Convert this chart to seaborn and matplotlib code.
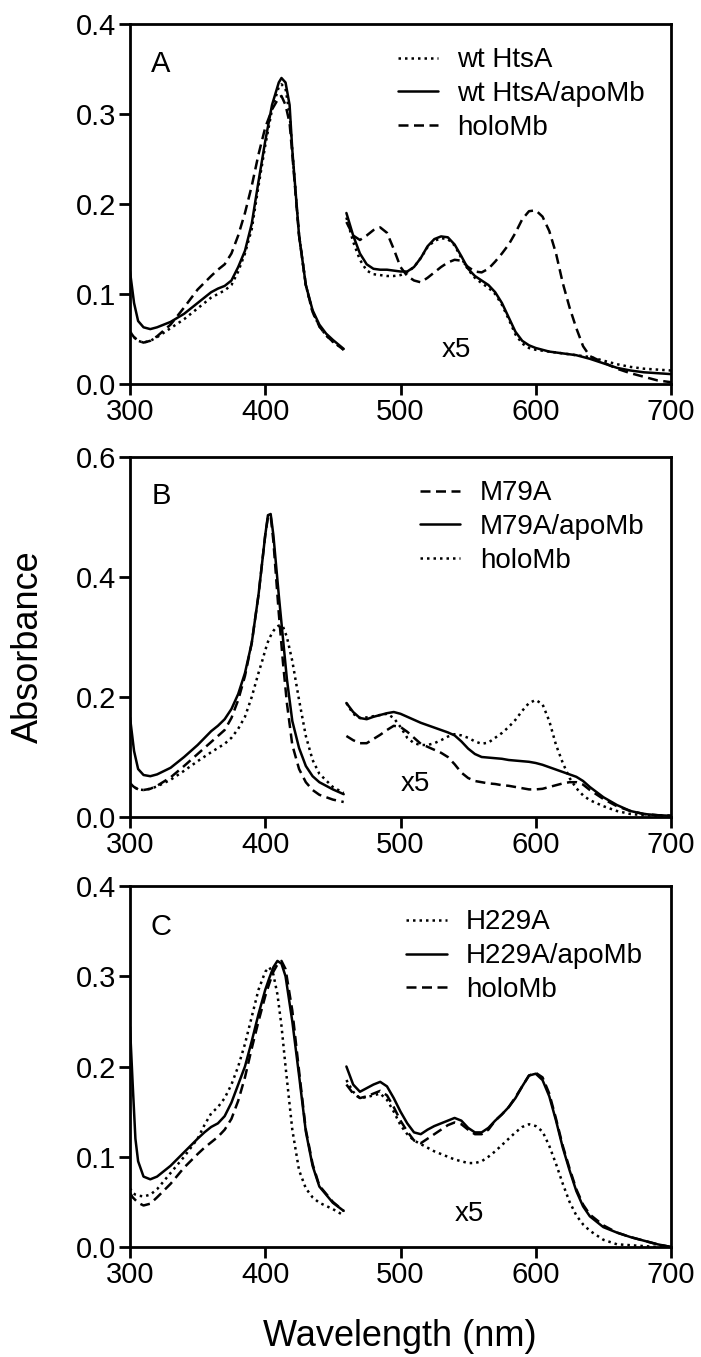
import numpy as np
import pandas as pd
import seaborn as sns
import matplotlib.pyplot as plt

# --- data ---
# Soret region (true absorbance) and visible region (x5)
a_wl_soret = [300, 303, 306, 310, 315, 320, 330, 340, 350, 360, 365, 370, 375, 380, 385, 390,
              395, 400, 405, 410, 412, 415, 418, 420, 425, 430, 435, 440, 445, 450, 458]
a_wt = [0.058, 0.052, 0.048, 0.046, 0.048, 0.052, 0.062, 0.072, 0.084, 0.096, 0.1, 0.104, 0.11,
        0.125, 0.145, 0.172, 0.22, 0.265, 0.305, 0.33, 0.333, 0.328, 0.3, 0.26, 0.165, 0.11,
        0.08, 0.064, 0.054, 0.047, 0.038]
a_wt_apo = [0.125, 0.09, 0.07, 0.063, 0.061, 0.063, 0.069, 0.078, 0.09, 0.102, 0.106, 0.109,
            0.115, 0.13, 0.148, 0.178, 0.225, 0.27, 0.31, 0.335, 0.34, 0.335, 0.31, 0.26, 0.165,
            0.11, 0.082, 0.066, 0.056, 0.049, 0.039]
a_holo = [0.058, 0.052, 0.048, 0.046, 0.048, 0.053, 0.066, 0.085, 0.105, 0.12, 0.127, 0.133,
          0.145, 0.165, 0.19, 0.22, 0.255, 0.285, 0.305, 0.318, 0.32, 0.31, 0.29, 0.255, 0.165,
          0.11, 0.08, 0.064, 0.054, 0.047, 0.038]

wl_vis = [460, 465, 470, 475, 480, 485, 490, 495, 500, 505, 510, 515, 520, 525, 530, 535, 540,
          545, 550, 555, 560, 565, 570, 575, 580, 585, 590, 595, 600, 605, 610, 615, 620, 625,
          630, 635, 640, 650, 660, 670, 680, 690, 700]
a_wt_vis = [0.185, 0.158, 0.138, 0.126, 0.122, 0.121, 0.12, 0.12, 0.121, 0.124, 0.13, 0.14, 0.152,
            0.159, 0.162, 0.161, 0.154, 0.14, 0.127, 0.118, 0.112, 0.107, 0.1, 0.088, 0.072,
            0.055, 0.045, 0.04, 0.038, 0.037, 0.036, 0.035, 0.034, 0.033, 0.032, 0.031, 0.03,
            0.026, 0.022, 0.019, 0.017, 0.016, 0.015]
a_wt_apo_vis = [0.19, 0.165, 0.145, 0.133, 0.128, 0.127, 0.127, 0.126, 0.125, 0.125, 0.13, 0.14,
                0.153, 0.161, 0.164, 0.163, 0.155, 0.142, 0.128, 0.12, 0.115, 0.11, 0.102, 0.09,
                0.074, 0.058, 0.048, 0.043, 0.04, 0.038, 0.036, 0.035, 0.034, 0.033, 0.032, 0.03,
                0.028, 0.023, 0.018, 0.015, 0.013, 0.012, 0.011]
a_holo_vis = [0.18, 0.165, 0.16, 0.165, 0.171, 0.174, 0.168, 0.15, 0.13, 0.12, 0.115, 0.113, 0.118,
              0.124, 0.13, 0.135, 0.138, 0.137, 0.13, 0.125, 0.124, 0.128, 0.136, 0.145, 0.155,
              0.168, 0.183, 0.192, 0.193, 0.186, 0.17, 0.145, 0.112, 0.085, 0.062, 0.042, 0.031,
              0.024, 0.017, 0.012, 0.008, 0.004, 0.002]

b_wl_soret = [300, 303, 306, 310, 315, 320, 330, 340, 350, 360, 365, 370, 375, 380, 385, 390, 395,
              398, 400, 402, 404, 406, 408, 410, 413, 416, 420, 425, 430, 435, 440, 450, 458]
b_m79a = [0.056, 0.05, 0.046, 0.045, 0.047, 0.052, 0.066, 0.085, 0.105, 0.125, 0.135, 0.145,
          0.165, 0.195, 0.235, 0.29, 0.37, 0.43, 0.47, 0.5, 0.502, 0.46, 0.4, 0.34, 0.26, 0.19,
          0.12, 0.08, 0.058, 0.045, 0.037, 0.029, 0.025]
b_m79a_apo = [0.166, 0.11, 0.08, 0.07, 0.068, 0.071, 0.082, 0.1, 0.12, 0.143, 0.152, 0.163, 0.18,
              0.205, 0.24, 0.29, 0.37, 0.43, 0.47, 0.503, 0.505, 0.47, 0.42, 0.37, 0.3, 0.23,
              0.16, 0.115, 0.085, 0.068, 0.058, 0.046, 0.038]
b_holo = [0.056, 0.05, 0.046, 0.045, 0.047, 0.051, 0.062, 0.077, 0.093, 0.108, 0.115, 0.122,
          0.132, 0.147, 0.167, 0.2, 0.24, 0.262, 0.278, 0.292, 0.302, 0.31, 0.316, 0.319, 0.318,
          0.3, 0.26, 0.195, 0.135, 0.095, 0.072, 0.05, 0.04]
b_m79a_vis = [0.135, 0.128, 0.123, 0.123, 0.13, 0.137, 0.145, 0.152, 0.15, 0.142, 0.132, 0.122,
              0.117, 0.112, 0.107, 0.1, 0.088, 0.074, 0.065, 0.06, 0.058, 0.056, 0.055, 0.053,
              0.052, 0.05, 0.048, 0.046, 0.046, 0.047, 0.05, 0.053, 0.056, 0.058, 0.058, 0.054,
              0.045, 0.03, 0.018, 0.01, 0.005, 0.003, 0.002]
b_m79a_apo_vis = [0.19, 0.175, 0.165, 0.163, 0.167, 0.17, 0.173, 0.175, 0.172, 0.167, 0.162,
                  0.157, 0.153, 0.149, 0.145, 0.141, 0.136, 0.126, 0.114, 0.105, 0.1, 0.099,
                  0.098, 0.097, 0.095, 0.094, 0.093, 0.092, 0.09, 0.087, 0.083, 0.079, 0.075,
                  0.071, 0.067, 0.06, 0.05, 0.033, 0.02, 0.01, 0.005, 0.003, 0.002]
b_holo_vis = [0.19, 0.172, 0.165, 0.166, 0.168, 0.17, 0.172, 0.165, 0.15, 0.132, 0.123, 0.12, 0.12,
              0.123, 0.128, 0.134, 0.138, 0.136, 0.132, 0.126, 0.122, 0.124, 0.132, 0.14, 0.15,
              0.162, 0.177, 0.19, 0.195, 0.188, 0.16, 0.12, 0.09, 0.065, 0.048, 0.036, 0.028,
              0.018, 0.01, 0.005, 0.003, 0.002, 0.002]

c_wl_soret = [300, 302, 304, 306, 310, 315, 320, 330, 340, 350, 355, 360, 365, 370, 375, 380, 385,
              390, 395, 400, 403, 406, 409, 412, 415, 420, 425, 430, 435, 440, 450, 458]
c_h229a = [0.065, 0.06, 0.058, 0.057, 0.056, 0.058, 0.064, 0.082, 0.1, 0.12, 0.135, 0.148, 0.155,
           0.165, 0.18, 0.2, 0.225, 0.255, 0.285, 0.305, 0.31, 0.302, 0.28, 0.245, 0.2, 0.13,
           0.085, 0.065, 0.055, 0.049, 0.042, 0.035]
c_h229a_apo = [0.244, 0.18, 0.12, 0.095, 0.078, 0.075, 0.078, 0.09, 0.105, 0.12, 0.127, 0.133,
               0.137, 0.145, 0.16, 0.18, 0.2, 0.228, 0.258, 0.285, 0.298, 0.31, 0.317, 0.314,
               0.3, 0.25, 0.19, 0.128, 0.09, 0.067, 0.049, 0.04]
c_holo = [0.06, 0.055, 0.052, 0.049, 0.046, 0.048, 0.055, 0.07, 0.088, 0.103, 0.11, 0.116, 0.122,
          0.13, 0.142, 0.162, 0.188, 0.22, 0.25, 0.278, 0.292, 0.305, 0.313, 0.317, 0.308, 0.262,
          0.195, 0.13, 0.092, 0.068, 0.05, 0.04]
c_h229a_vis = [0.185, 0.172, 0.165, 0.166, 0.168, 0.17, 0.163, 0.15, 0.135, 0.125, 0.118, 0.114,
               0.11, 0.106, 0.103, 0.1, 0.097, 0.095, 0.093, 0.093, 0.095, 0.1, 0.106, 0.113, 0.12,
               0.127, 0.133, 0.136, 0.134, 0.128, 0.112, 0.092, 0.07, 0.05, 0.035, 0.025, 0.018,
               0.008, 0.003, 0.002, 0.001, 0.0, 0.0]
c_h229a_apo_vis = [0.2, 0.18, 0.172, 0.176, 0.18, 0.183, 0.178, 0.165, 0.15, 0.137, 0.127, 0.125,
                   0.13, 0.134, 0.137, 0.14, 0.143, 0.14, 0.132, 0.127, 0.127, 0.132, 0.14, 0.147,
                   0.155, 0.165, 0.178, 0.19, 0.192, 0.185, 0.167, 0.14, 0.11, 0.085, 0.062, 0.045,
                   0.034, 0.022, 0.016, 0.011, 0.007, 0.003, 0.0]
c_holo_vis = [0.18, 0.17, 0.165, 0.167, 0.17, 0.173, 0.168, 0.155, 0.14, 0.128, 0.118, 0.115, 0.12,
              0.125, 0.13, 0.135, 0.138, 0.136, 0.13, 0.125, 0.125, 0.13, 0.14, 0.147, 0.155,
              0.166, 0.178, 0.19, 0.193, 0.188, 0.17, 0.142, 0.112, 0.087, 0.064, 0.047, 0.036,
              0.024, 0.016, 0.011, 0.007, 0.003, 0.0]

DOT = (0, (1, 1.6))
DASH = (0, (4, 2.2))
SOLID = '-'


def draw_panel(ax, wl_s, series, letter, letter_y, x5_pos, ylim, yticks, leg_x):
    # series: list of (label, soret values, visible values, linestyle) in legend order
    for label, soret, vis, ls in series:
        sns.lineplot(x=wl_s, y=soret, ax=ax, color='black', linestyle=ls, lw=1.8, label=label)
        sns.lineplot(x=wl_vis, y=vis, ax=ax, color='black', linestyle=ls, lw=1.8)
    ax.set_xlim(300, 700)
    ax.set_ylim(*ylim)
    ax.set_xticks([300, 400, 500, 600, 700])
    ax.set_yticks(yticks)
    ax.yaxis.set_major_formatter(plt.FormatStrFormatter('%.1f'))
    ax.set_xlabel('')
    ax.set_ylabel('')
    ax.text(323, letter_y, letter, fontsize=21, ha='center', va='center')
    ax.text(x5_pos[0], x5_pos[1], 'x5', fontsize=20, ha='center', va='center')
    ax.legend(loc='upper left', bbox_to_anchor=(leg_x, 0.935), frameon=False, fontsize=20,
              handlelength=1.45, handletextpad=0.7, labelspacing=0.28, borderpad=0,
              borderaxespad=0)
    for sp in ax.spines.values():
        sp.set_visible(True)
        sp.set_linewidth(2)
        sp.set_color('black')
    ax.tick_params(axis='both', direction='out', length=8, width=2, labelsize=21, pad=2,
                   top=False, right=False, colors='black')


sns.set_style('ticks')
plt.rcParams['font.family'] = ['Liberation Sans', 'DejaVu Sans']
plt.rcParams['text.color'] = 'black'
plt.rcParams['axes.labelcolor'] = 'black'

fig = plt.figure(figsize=(7.01, 13.57), dpi=100)
W, H = 701, 1357
left, width = 130 / W, 541 / W
axA = fig.add_axes([left, 1 - 384 / H, width, 360 / H])
axB = fig.add_axes([left, 1 - 817 / H, width, 360 / H])
axC = fig.add_axes([left, 1 - 1247 / H, width, 361 / H])

draw_panel(axA, a_wl_soret,
           [('wt HtsA', a_wt, a_wt_vis, DOT),
            ('wt HtsA/apoMb', a_wt_apo, a_wt_apo_vis, SOLID),
            ('holoMb', a_holo, a_holo_vis, DASH)],
           'A', 0.356, (541, 0.038), (0, 0.4), [0.0, 0.1, 0.2, 0.3, 0.4], 0.495)
draw_panel(axB, b_wl_soret,
           [('M79A', b_m79a, b_m79a_vis, DASH),
            ('M79A/apoMb', b_m79a_apo, b_m79a_apo_vis, SOLID),
            ('holoMb', b_holo, b_holo_vis, DOT)],
           'B', 0.535, (511, 0.055), (0, 0.6), [0.0, 0.2, 0.4, 0.6], 0.536)
draw_panel(axC, c_wl_soret,
           [('H229A', c_h229a, c_h229a_vis, DOT),
            ('H229A/apoMb', c_h229a_apo, c_h229a_apo_vis, SOLID),
            ('holoMb', c_holo, c_holo_vis, DASH)],
           'C', 0.355, (551, 0.037), (0, 0.4), [0.0, 0.1, 0.2, 0.3, 0.4], 0.511)

fig.text(28 / W, 1 - 647 / H, 'Absorbance', rotation=90, fontsize=26, ha='center', va='center')
fig.text(400 / W, 1 - 1337 / H, 'Wavelength (nm)', fontsize=26, ha='center', va='center')

fig.savefig('out.png', dpi=100)
